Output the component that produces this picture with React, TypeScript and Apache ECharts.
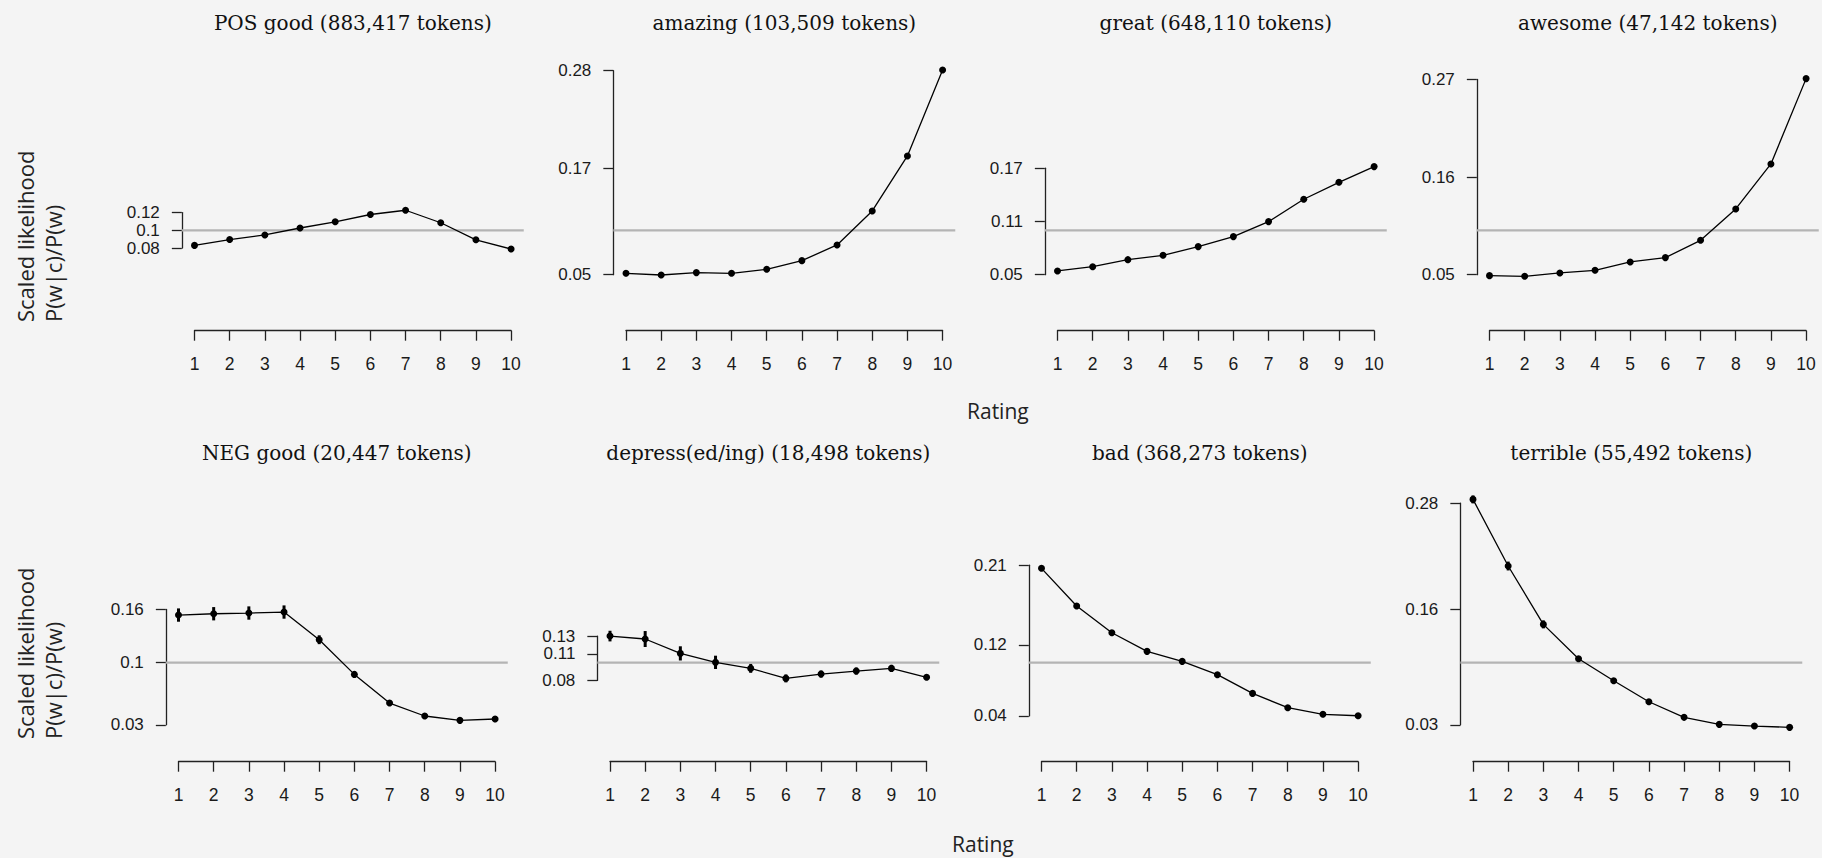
import React, { useEffect, useRef } from "react";
import * as echarts from "echarts";

// ---- data ----
const RATINGS = [1, 2, 3, 4, 5, 6, 7, 8, 9, 10];
const REF_LEVEL = 0.1;

const TITLES = [
  "POS good (883,417 tokens)",
  "amazing (103,509 tokens)",
  "great (648,110 tokens)",
  "awesome (47,142 tokens)",
  "NEG good (20,447 tokens)",
  "depress(ed/ing) (18,498 tokens)",
  "bad (368,273 tokens)",
  "terrible (55,492 tokens)",
];

const posGood = [0.083, 0.0896, 0.0948, 0.1026, 0.1096, 0.1178, 0.1226, 0.1085, 0.0893, 0.0789];
const amazing = [0.0515, 0.0496, 0.0523, 0.0515, 0.056, 0.0658, 0.0835, 0.1218, 0.1838, 0.2808];
const great = [0.0542, 0.059, 0.0669, 0.0718, 0.0816, 0.0929, 0.1098, 0.135, 0.1541, 0.1718];
const awesome = [0.0489, 0.0481, 0.0519, 0.0549, 0.0643, 0.0692, 0.0887, 0.1241, 0.1748, 0.271];
const negGood = [0.1537, 0.1552, 0.156, 0.1571, 0.1259, 0.0868, 0.0545, 0.0399, 0.035, 0.0365];
const depressed = [0.13, 0.1267, 0.1105, 0.1004, 0.0936, 0.0823, 0.0872, 0.0906, 0.0936, 0.0835];
const bad = [0.2064, 0.1639, 0.1338, 0.1128, 0.1015, 0.0865, 0.0654, 0.0493, 0.0418, 0.0402];
const terrible = [0.2841, 0.209, 0.1432, 0.1045, 0.0797, 0.056, 0.0384, 0.0305, 0.0286, 0.0271];

// error bar half-widths
const awesomeErr = [0.0015, 0.0015, 0.0015, 0.002, 0.002, 0.002, 0.002, 0.002, 0.003, 0.003];
const negGoodErr = [0.0075, 0.0075, 0.0075, 0.0075, 0.005, 0.0035, 0.002, 0.0015, 0.0015, 0.0015];
const depressedErr = [0.006, 0.009, 0.008, 0.0075, 0.005, 0.0045, 0.004, 0.004, 0.004, 0.0025];
const terribleErr = [0.0045, 0.005, 0.0045, 0.003, 0.002, 0.0015, 0.001, 0.001, 0.001, 0.001];

const SERIES_VALUES = [posGood, amazing, great, awesome, negGood, depressed, bad, terrible];
const SERIES_ERRORS: (number[] | null)[] = [null, null, null, awesomeErr, negGoodErr, depressedErr, null, terribleErr];

const Y_TICKS = [
  [0.08, 0.1, 0.12],
  [0.05, 0.17, 0.28],
  [0.05, 0.11, 0.17],
  [0.05, 0.16, 0.27],
  [0.03, 0.1, 0.16],
  [0.08, 0.11, 0.13],
  [0.04, 0.12, 0.21],
  [0.03, 0.16, 0.28],
];

const Y_NAME_1 = "Scaled likelihood";
const Y_NAME_2 = "P(w|c)/P(w)";
const X_NAME = "Rating";

// ---- layout ----
const W = 1822;
const H = 858;
const X_PAD = 0.36; // R's 4% axis extension
const PANEL_X1 = [194.5, 626, 1057.5, 1489.5, 178.5, 610, 1041.5, 1473];
const PANEL_SPAN = 316.6;
const ROW_REF_Y = [230.3, 662.7];
const ROW_XAXIS_Y = [330.7, 761.7];
const ROW_TITLE_Y = [22.5, 453];
const PX_PER_UNIT = 887;

const TICK_FONT = "Liberation Sans";
const X_TICK_SIZE = 17.5;
const Y_TICK_SIZE = 17;
const AXIS_COLOR = "#222";

function buildOption() {
  const grid: any[] = [];
  const xAxis: any[] = [];
  const yAxis: any[] = [];
  const series: any[] = [];
  const graphic: any[] = [];

  for (let p = 0; p < 8; p++) {
    const row = p < 4 ? 0 : 1;
    const ticks = Y_TICKS[p];
    const tMin = Math.min(...ticks);
    const tMax = Math.max(...ticks);
    const x1 = PANEL_X1[p];
    const u = PANEL_SPAN / 9;
    const refY = ROW_REF_Y[row];

    // data grid
    const gi = grid.length;
    grid.push({
      left: x1 - X_PAD * u,
      top: refY - (tMax - REF_LEVEL) * PX_PER_UNIT,
      width: (9 + 2 * X_PAD) * u,
      height: (tMax - tMin) * PX_PER_UNIT,
    });
    xAxis.push({
      gridIndex: gi,
      type: "value",
      min: 1 - X_PAD,
      max: 10 + X_PAD,
      show: false,
    });
    yAxis.push({
      gridIndex: gi,
      type: "value",
      min: tMin,
      max: tMax,
      axisLine: { show: true, lineStyle: { color: AXIS_COLOR, width: 1.3 } },
      axisTick: { show: true, length: 10, customValues: ticks, lineStyle: { color: AXIS_COLOR, width: 1.3 } },
      axisLabel: {
        show: true,
        customValues: ticks,
        margin: 22,
        hideOverlap: false,
        lineHeight: 12,
        fontFamily: TICK_FONT,
        fontSize: Y_TICK_SIZE,
        color: "#1a1a1a",
        showMinLabel: true,
        showMaxLabel: true,
        formatter: (v: number) => String(v),
      },
      splitLine: { show: false },
    });

    // x-axis grid (R style axis below the plot)
    const ai = grid.length;
    grid.push({
      left: x1,
      top: ROW_XAXIS_Y[row] - 1,
      width: PANEL_SPAN,
      height: 1,
    });
    xAxis.push({
      gridIndex: ai,
      type: "value",
      min: 1,
      max: 10,
      interval: 1,
      axisLine: { show: true, lineStyle: { color: AXIS_COLOR, width: 1.3 } },
      axisTick: { show: true, length: 10, lineStyle: { color: AXIS_COLOR, width: 1.3 } },
      axisLabel: {
        show: true,
        margin: 24,
        hideOverlap: false,
        fontFamily: TICK_FONT,
        fontSize: X_TICK_SIZE,
        color: "#1a1a1a",
        showMinLabel: true,
        showMaxLabel: true,
      },
      splitLine: { show: false },
    });
    yAxis.push({ gridIndex: ai, type: "value", min: 0, max: 1, show: false });

    // reference line at 0.1
    series.push({
      type: "line",
      xAxisIndex: gi,
      yAxisIndex: gi,
      data: [
        [1 - X_PAD, REF_LEVEL],
        [10 + X_PAD, REF_LEVEL],
      ],
      symbol: "none",
      lineStyle: { color: "#b4b4b4", width: 2.2 },
      silent: true,
      z: 1,
    });

    const vals = SERIES_VALUES[p];
    series.push({
      type: "line",
      name: TITLES[p],
      xAxisIndex: gi,
      yAxisIndex: gi,
      data: RATINGS.map((r, i) => [r, vals[i]]),
      symbol: "circle",
      symbolSize: 7,
      itemStyle: { color: "#000" },
      lineStyle: { color: "#000", width: 1.3 },
      clip: false,
      z: 3,
    });

    const errs = SERIES_ERRORS[p];
    if (errs) {
      series.push({
        type: "custom",
        xAxisIndex: gi,
        yAxisIndex: gi,
        clip: false,
        z: 4,
        data: RATINGS.map((r, i) => [r, vals[i] - errs[i], vals[i] + errs[i]]),
        encode: { x: 0, y: [1, 2] },
        renderItem: (params: any, api: any) => {
          const x = api.value(0);
          const a = api.coord([x, api.value(1)]);
          const b = api.coord([x, api.value(2)]);
          return {
            type: "line",
            shape: { x1: a[0], y1: a[1], x2: b[0], y2: b[1] },
            style: { stroke: "#000", lineWidth: 3 },
          };
        },
      });
    }

    // title
    graphic.push({
      type: "text",
      x: x1 + PANEL_SPAN / 2,
      y: ROW_TITLE_Y[row],
      style: {
        text: TITLES[p],
        fontFamily: "DejaVu Serif",
        fontSize: 20,
        fill: "#111",
        textAlign: "center",
        textVerticalAlign: "middle",
      },
    });
  }

  // y-axis names and x-axis names
  const yNameStart = [322, 739];
  const xNameLeft = [967, 952];
  const xNameY = [411, 844];
  for (let row = 0; row < 2; row++) {
    graphic.push({
      type: "text",
      x: 25,
      y: yNameStart[row],
      rotation: Math.PI / 2,
      style: {
        text: Y_NAME_1,
        fontFamily: "Open Sans",
        fontSize: 22,
        fill: "#222",
        textAlign: "left",
        textVerticalAlign: "middle",
      },
    });
    graphic.push({
      type: "text",
      x: 53,
      y: yNameStart[row],
      rotation: Math.PI / 2,
      style: {
        text: Y_NAME_2,
        fontFamily: "Open Sans",
        fontSize: 22,
        fill: "#222",
        textAlign: "left",
        textVerticalAlign: "middle",
      },
    });
    graphic.push({
      type: "text",
      x: xNameLeft[row],
      y: xNameY[row],
      style: {
        text: X_NAME,
        fontFamily: "Open Sans",
        fontSize: 21,
        fill: "#222",
        textAlign: "left",
        textVerticalAlign: "middle",
      },
    });
  }

  return {
    animation: false,
    backgroundColor: "#f4f4f4",
    grid,
    xAxis,
    yAxis,
    series,
    graphic,
  };
}

export default function App() {
  const ref = useRef<HTMLDivElement>(null);
  useEffect(() => {
    if (!ref.current) return;
    const chart = echarts.init(ref.current, null, { renderer: "svg", width: W, height: H });
    chart.setOption(buildOption());
    return () => chart.dispose();
  }, []);
  return (
    <div
      ref={ref}
      style={{ position: "fixed", left: 0, top: 0, width: W, height: H }}
    />
  );
}
